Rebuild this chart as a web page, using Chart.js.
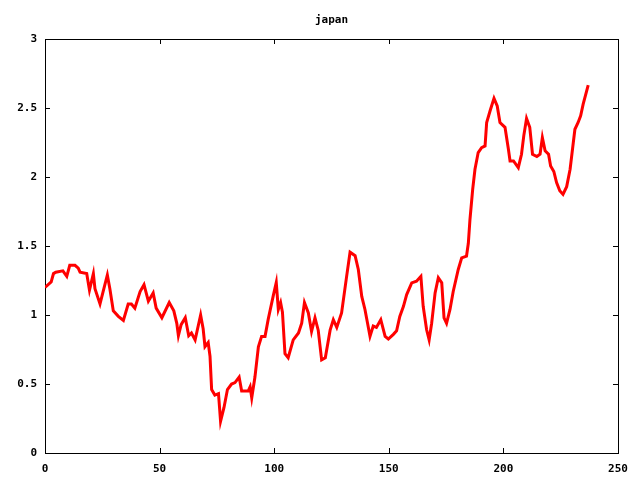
<!DOCTYPE html>
<html>
<head>
<meta charset="utf-8">
<script src="https://cdn.jsdelivr.net/npm/chart.js@4"></script>
<style>
  body { margin: 0; background: #fff; }
  canvas { display: block; }
</style>
</head>
<body>
<canvas id="myChart" width="640" height="480"></canvas>
<script>
const titleText = 'japan';

// x positions
const xValues = [
  0, 2.7, 3.7, 4.7, 7.8, 9.5, 10.8, 13.1, 14.5, 15.3, 18.2, 19.4, 21.1, 21.8, 24.0,
  27.2, 28.3, 29.8, 32.0, 34.2, 36.3, 37.7, 39.2, 41.5, 43.2, 45.1, 47.2, 48.5, 51.0,
  54.2, 56.2, 57.5, 58.2, 59.4, 61.2, 62.7, 63.9, 65.5, 67.9, 69.0, 69.8, 71.2, 72.0,
  72.7, 74.1, 75.7, 76.6, 78.1, 79.6, 81.4, 82.9, 84.7, 85.8, 88.7, 89.5, 90.2, 91.6,
  93.1, 94.5, 96.0, 97.4, 99.6, 100.9, 101.8, 102.8, 103.6, 104.7, 106.1, 108.3, 110.6,
  112.0, 113.2, 114.9, 116.3, 117.8, 119.2, 120.7, 122.3, 124.4, 125.8, 127.3, 129.4,
  131.6, 133.1, 135.3, 136.7, 138.2, 139.6, 141.8, 143.2, 144.6, 146.5, 148.4, 149.8,
  152.0, 153.4, 154.8, 156.4, 157.8, 160.0, 162.1, 164.0, 165.0, 166.5, 167.6, 168.7,
  170.2, 171.6, 173.1, 174.1, 175.2, 176.7, 178.1, 180.3, 181.8, 183.9, 184.7, 185.4,
  186.6, 187.6, 189.0, 190.5, 192.0, 192.7, 194.2, 195.9, 197.3, 198.5, 200.7, 202.2,
  202.9, 204.4, 206.5, 207.9, 208.9, 210.1, 211.5, 212.7, 214.6, 216.0, 217.0, 218.2,
  219.7, 220.6, 222.0, 223.2, 224.6, 226.0, 227.6, 229.1, 230.5, 231.2, 232.6, 233.7,
  234.8, 237.0
];

// values
const yValues = [
  1.20, 1.24, 1.30, 1.31, 1.32, 1.28, 1.36, 1.36, 1.34, 1.31, 1.30, 1.18, 1.30, 1.19, 1.08,
  1.29, 1.19, 1.03, 0.99, 0.96, 1.08, 1.08, 1.05, 1.17, 1.22, 1.10, 1.16, 1.05, 0.98,
  1.09, 1.03, 0.94, 0.85, 0.93, 0.98, 0.85, 0.87, 0.82, 1.00, 0.90, 0.77, 0.80, 0.70,
  0.46, 0.42, 0.43, 0.23, 0.33, 0.46, 0.50, 0.51, 0.55, 0.45, 0.45, 0.48, 0.40, 0.55,
  0.77, 0.845, 0.845, 0.97, 1.14, 1.235, 1.04, 1.09, 1.02, 0.72, 0.69, 0.82, 0.87,
  0.94, 1.09, 1.015, 0.88, 0.98, 0.89, 0.675, 0.69, 0.89, 0.966, 0.91, 1.015,
  1.28, 1.455, 1.43, 1.33, 1.135, 1.04, 0.845, 0.92, 0.91, 0.966, 0.845, 0.826,
  0.86, 0.885, 0.99, 1.063, 1.148, 1.233, 1.245, 1.28, 1.063, 0.893, 0.82, 0.94,
  1.16, 1.27, 1.233, 0.98, 0.94, 1.04, 1.17, 1.33, 1.414, 1.426, 1.52, 1.69,
  1.91, 2.056, 2.177, 2.213, 2.225, 2.395, 2.48, 2.57, 2.515, 2.395, 2.36, 2.20,
  2.116, 2.116, 2.068, 2.165, 2.30, 2.424, 2.36, 2.165, 2.148, 2.165, 2.286, 2.19,
  2.165, 2.08, 2.04, 1.96, 1.90, 1.874, 1.93, 2.056, 2.25, 2.346, 2.395, 2.443,
  2.528, 2.666
];

const xTicks = [0, 50, 100, 150, 200, 250];
const yTicks = [0, 0.5, 1, 1.5, 2, 2.5, 3];

const points = xValues.map((x, i) => ({ x: x, y: yValues[i] }));

const monoFont = { family: "'DejaVu Sans Mono', monospace", size: 11, weight: 'bold' };

// gnuplot-ish frame with inward ticks on all sides
const frameTicks = {
    id: 'frameTicks',
    beforeDatasetsDraw(chart) {
        const ctx = chart.ctx;
        const a = chart.chartArea;
        const xs = chart.scales.x;
        const ys = chart.scales.y;
        const len = 5;
        ctx.save();
        ctx.strokeStyle = '#000';
        ctx.lineWidth = 1;
        ctx.beginPath();
        xTicks.forEach(v => {
            const px = Math.round(xs.getPixelForValue(v)) + 0.5;
            ctx.moveTo(px, a.bottom); ctx.lineTo(px, a.bottom - len);
            ctx.moveTo(px, a.top); ctx.lineTo(px, a.top + len);
        });
        yTicks.forEach(v => {
            const py = Math.round(ys.getPixelForValue(v)) + 0.5;
            ctx.moveTo(a.left, py); ctx.lineTo(a.left + len, py);
            ctx.moveTo(a.right, py); ctx.lineTo(a.right - len, py);
        });
        ctx.stroke();
        ctx.strokeRect(Math.round(a.left) + 0.5, Math.round(a.top) + 0.5,
            Math.round(a.right - a.left), Math.round(a.bottom - a.top));
        ctx.restore();
    }
};

var myChart = new Chart(document.getElementById('myChart'), {
    type: 'line',
    data: {
        datasets: [{
            label: titleText,
            data: points,
            borderColor: '#ff0000',
            borderWidth: 3,
            pointRadius: 0,
            tension: 0,
            fill: false
        }]
    },
    options: {
        responsive: false,
        animation: false,
        devicePixelRatio: 1,
        layout: { padding: { left: 0, right: 22, top: 0, bottom: 0 } },
        plugins: {
            legend: { display: false },
            tooltip: { enabled: false },
            title: {
                display: true,
                text: titleText,
                fullSize: false,
                color: '#000',
                font: monoFont,
                padding: { top: 14, bottom: 11.8 }
            }
        },
        scales: {
            x: {
                type: 'linear',
                min: 0,
                max: 250,
                afterFit: s => { s.height = 27; },
                afterBuildTicks: s => { s.ticks = xTicks.map(v => ({ value: v })); },
                grid: { drawOnChartArea: false, drawTicks: false },
                border: { display: false },
                ticks: { color: '#000', font: monoFont, padding: 10, maxRotation: 0,
                    callback: v => String(v) }
            },
            y: {
                min: 0,
                max: 3,
                afterFit: s => { s.width = 45; },
                afterBuildTicks: s => { s.ticks = yTicks.map(v => ({ value: v })); },
                grid: { drawOnChartArea: false, drawTicks: false },
                border: { display: false },
                ticks: { color: '#000', font: monoFont, padding: 8,
                    callback: v => String(v) }
            }
        }
    },
    plugins: [frameTicks]
});
</script>
</body>
</html>
